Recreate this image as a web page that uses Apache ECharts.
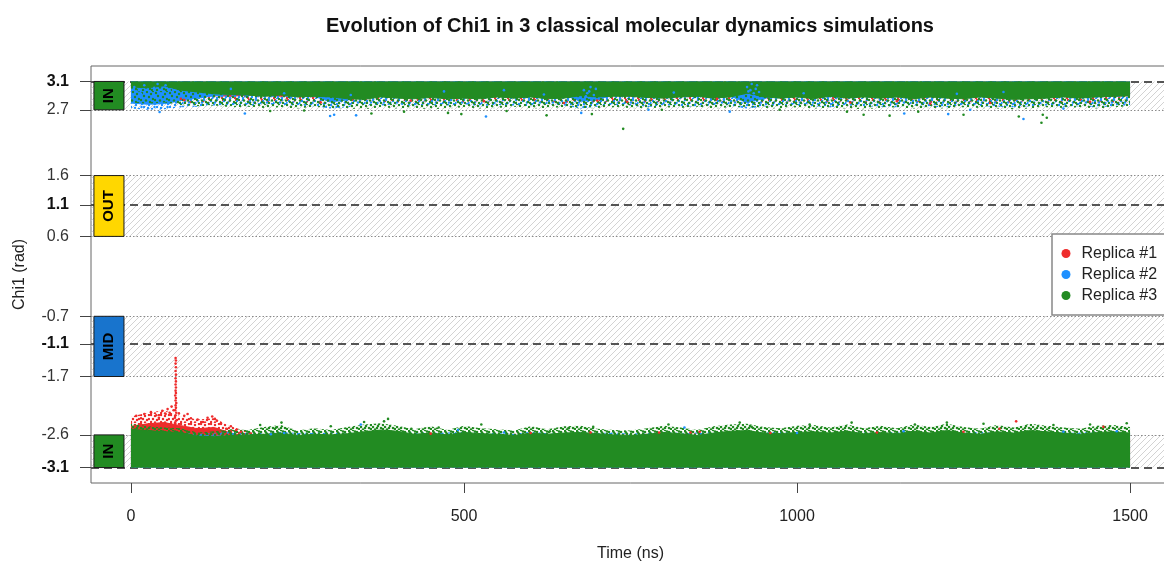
<!DOCTYPE html>
<html><head><meta charset="utf-8">
<script src="https://cdn.jsdelivr.net/npm/echarts@6/dist/echarts.min.js"></script>
<style>html,body{margin:0;padding:0;background:#fff;overflow:hidden}#c{width:1172px;height:562px}</style>
</head><body><div id="c"></div>
<script>
// ---------------- data ----------------
const times = [0,25,50,75,100,125,150,175,200,225,
  250,275,300,325,350,375,400,425,450,475,
  500,525,550,575,600,625,650,675,700,725,
  750,775,800,825,850,875,900,925,950,975,
  1000,1025,1050,1075,1100,1125,1150,1175,1200,1225,
  1250,1275,1300,1325,1350,1375,1400,1425,1450,1475,
  1500];
const xTicks = [0, 500, 1000, 1500];
const yTickVals = [3.14159, 2.68, 1.61, 1.13, 0.62, -0.68, -1.13, -1.66, -2.61, -3.14159];
const yTickLabels = ['3.1','2.7','1.6','1.1','0.6','-0.7','-1.1','-1.7','-2.6','-3.1'];
const centerLines = [3.14159, 1.13, -1.13, -3.14159];
const boundaryLines = [2.68, 1.61, 0.62, -0.68, -1.66, -2.61];
const zoneNames = ['IN','OUT','MID','IN'];
const zoneLow  = [2.68, 0.62, -1.66, -3.14159];
const zoneHigh = [3.14159, 1.61, -0.68, -2.61];
const replicaNames = ['Replica #1','Replica #2','Replica #3'];

// Replica #3 (green) – dense cloud edge and sparse fringe edge
const g3TopDense = [3.05,3.04,3.07,3.00,2.97,2.94,2.93,2.92,2.90,2.92,
  2.89,2.90,2.89,2.86,2.85,2.89,2.87,2.86,2.88,2.86,
  2.87,2.86,2.89,2.87,2.89,2.86,2.87,2.91,2.89,2.90,
  2.90,2.88,2.87,2.89,2.90,2.87,2.89,2.95,2.89,2.87,
  2.89,2.86,2.90,2.87,2.89,2.87,2.89,2.86,2.89,2.87,
  2.86,2.89,2.87,2.85,2.86,2.87,2.89,2.87,2.89,2.90,
  2.91];
const g3TopFringe = [2.80,2.78,2.80,2.76,2.74,2.75,2.72,2.73,2.71,2.72,
  2.70,2.73,2.71,2.70,2.69,2.72,2.70,2.71,2.69,2.70,
  2.72,2.70,2.71,2.73,2.70,2.71,2.72,2.70,2.71,2.72,
  2.71,2.70,2.72,2.71,2.73,2.70,2.72,2.73,2.71,2.70,
  2.72,2.70,2.71,2.70,2.69,2.71,2.72,2.70,2.71,2.70,
  2.72,2.71,2.70,2.69,2.70,2.72,2.71,2.72,2.70,2.72,
  2.74];
const g3BotDense = [-2.52,-2.54,-2.56,-2.57,-2.63,-2.64,-2.62,-2.61,-2.60,-2.58,
  -2.62,-2.60,-2.61,-2.59,-2.56,-2.53,-2.55,-2.60,-2.58,-2.61,
  -2.57,-2.59,-2.60,-2.62,-2.58,-2.60,-2.58,-2.57,-2.59,-2.61,
  -2.62,-2.60,-2.57,-2.59,-2.62,-2.58,-2.55,-2.54,-2.58,-2.59,
  -2.57,-2.56,-2.58,-2.55,-2.59,-2.57,-2.59,-2.55,-2.58,-2.54,
  -2.58,-2.60,-2.56,-2.58,-2.54,-2.56,-2.58,-2.60,-2.57,-2.56,
  -2.58];
const g3BotFringe = [-2.43,-2.47,-2.49,-2.50,-2.57,-2.55,-2.52,-2.53,-2.48,-2.45,
  -2.54,-2.50,-2.53,-2.48,-2.44,-2.42,-2.46,-2.52,-2.47,-2.53,
  -2.46,-2.50,-2.52,-2.54,-2.47,-2.52,-2.47,-2.46,-2.51,-2.53,
  -2.54,-2.50,-2.46,-2.49,-2.53,-2.47,-2.44,-2.43,-2.48,-2.50,
  -2.46,-2.45,-2.49,-2.44,-2.50,-2.46,-2.50,-2.44,-2.48,-2.43,
  -2.48,-2.51,-2.45,-2.49,-2.43,-2.46,-2.49,-2.51,-2.46,-2.45,
  -2.48];

// Replica #2 (blue)
const b2TopDense = [2.79,2.77,2.78,2.83,2.87,2.91,2.93,2.92,2.94,2.93,
  2.92,2.90,2.81,2.84,2.93,2.92,2.94,2.92,2.93,2.94,
  2.92,2.93,2.94,2.92,2.93,2.94,2.92,2.82,2.84,2.93,
  2.92,2.88,2.93,2.92,2.89,2.94,2.90,2.80,2.86,2.93,
  2.93,2.92,2.89,2.93,2.92,2.91,2.89,2.93,2.91,2.88,
  2.93,2.92,2.90,2.89,2.92,2.93,2.91,2.92,2.89,2.92,
  2.93];
const b2TopFringe = [2.70,2.68,2.69,2.72,2.73,2.75,2.76,2.74,2.77,2.76,
  2.75,2.74,2.70,2.72,2.76,2.75,2.77,2.74,2.76,2.75,
  2.77,2.74,2.76,2.75,2.74,2.77,2.75,2.70,2.73,2.76,
  2.75,2.72,2.76,2.74,2.73,2.76,2.74,2.70,2.73,2.76,
  2.75,2.74,2.72,2.75,2.74,2.73,2.72,2.75,2.73,2.72,
  2.75,2.74,2.73,2.72,2.74,2.75,2.73,2.74,2.72,2.74,
  2.76];
const b2BotDense = [-2.62,-2.63,-2.62,-2.64,-2.62,-2.63,-2.64,-2.65,-2.64,-2.63,
  -2.65,-2.64,-2.63,-2.64,-2.65,-2.63,-2.64,-2.65,-2.64,-2.63,
  -2.64,-2.65,-2.63,-2.64,-2.65,-2.64,-2.63,-2.65,-2.64,-2.63,
  -2.65,-2.64,-2.63,-2.65,-2.64,-2.63,-2.64,-2.65,-2.63,-2.64,
  -2.65,-2.63,-2.64,-2.65,-2.64,-2.63,-2.65,-2.64,-2.63,-2.64,
  -2.63,-2.65,-2.64,-2.63,-2.64,-2.65,-2.63,-2.64,-2.65,-2.63,
  -2.64];
const b2BotFringe = [-2.57,-2.56,-2.58,-2.57,-2.59,-2.58,-2.56,-2.57,-2.58,-2.56,
  -2.58,-2.57,-2.56,-2.58,-2.57,-2.59,-2.57,-2.56,-2.58,-2.57,
  -2.56,-2.58,-2.57,-2.59,-2.56,-2.58,-2.57,-2.56,-2.58,-2.57,
  -2.59,-2.57,-2.56,-2.58,-2.57,-2.56,-2.58,-2.59,-2.57,-2.56,
  -2.58,-2.57,-2.59,-2.56,-2.57,-2.58,-2.56,-2.57,-2.59,-2.58,
  -2.57,-2.56,-2.58,-2.57,-2.59,-2.56,-2.58,-2.57,-2.56,-2.58,
  -2.57];

// Replica #1 (red)
const r1TopDense = [2.92,2.90,2.88,2.87,2.89,2.91,2.90,2.92,2.91,2.90,
  2.91,2.89,2.90,2.92,2.91,2.90,2.89,2.91,2.92,2.90,
  2.89,2.91,2.90,2.92,2.90,2.91,2.89,2.90,2.91,2.92,
  2.90,2.91,2.89,2.90,2.92,2.91,2.90,2.89,2.91,2.90,
  2.92,2.90,2.91,2.89,2.90,2.92,2.91,2.90,2.89,2.91,
  2.90,2.92,2.91,2.89,2.90,2.91,2.92,2.90,2.91,2.90,
  2.91];
const r1TopFringe = [2.82,2.80,2.78,2.77,2.80,2.82,2.81,2.83,2.80,2.82,
  2.81,2.79,2.82,2.80,2.83,2.81,2.80,2.82,2.81,2.83,
  2.80,2.82,2.81,2.83,2.80,2.81,2.79,2.82,2.80,2.81,
  2.82,2.80,2.81,2.83,2.82,2.80,2.81,2.83,2.80,2.82,
  2.81,2.83,2.80,2.82,2.81,2.80,2.82,2.81,2.79,2.82,
  2.80,2.82,2.81,2.79,2.83,2.81,2.80,2.82,2.81,2.80,
  2.82];
const r1BotDense = [-2.47,-2.43,-2.41,-2.46,-2.51,-2.49,-2.58,-2.64,-2.65,-2.66,
  -2.65,-2.67,-2.66,-2.65,-2.67,-2.66,-2.65,-2.66,-2.67,-2.65,
  -2.66,-2.65,-2.67,-2.66,-2.65,-2.66,-2.67,-2.65,-2.66,-2.65,
  -2.67,-2.66,-2.65,-2.66,-2.65,-2.67,-2.66,-2.65,-2.66,-2.67,
  -2.65,-2.66,-2.67,-2.65,-2.66,-2.65,-2.66,-2.67,-2.65,-2.66,
  -2.65,-2.66,-2.67,-2.65,-2.66,-2.65,-2.67,-2.66,-2.65,-2.66,
  -2.66];
const r1BotFringe = [-2.31,-2.25,-2.21,-2.31,-2.36,-2.34,-2.47,-2.56,-2.60,-2.61,
  -2.60,-2.62,-2.59,-2.61,-2.60,-2.62,-2.60,-2.59,-2.61,-2.60,
  -2.62,-2.60,-2.61,-2.59,-2.60,-2.62,-2.60,-2.58,-2.61,-2.60,
  -2.61,-2.59,-2.58,-2.60,-2.58,-2.61,-2.60,-2.62,-2.60,-2.61,
  -2.60,-2.62,-2.61,-2.59,-2.60,-2.61,-2.60,-2.59,-2.61,-2.58,
  -2.60,-2.61,-2.59,-2.58,-2.60,-2.61,-2.60,-2.62,-2.60,-2.61,
  -2.60];

// individual (sparse) points
const r1Points = [
  [66.5,-2.42],[67.5,-2.38],[66,-2.33],[67,-2.29],[68,-2.25],[66.5,-2.21],[67.5,-2.17],[67,-2.13],
  [68,-2.09],[67,-2.05],[67.5,-2.01],[66.5,-1.97],[67.5,-1.93],[67,-1.89],[67.5,-1.84],[67,-1.79],
  [67.5,-1.74],[67,-1.69],[67.5,-1.63],[67,-1.57],[67.5,-1.51],[67,-1.45],[67.5,-1.40],[67,-1.36],
  [8,-2.30],[15,-2.34],[20,-2.27],[30,-2.24],[38,-2.29],[42,-2.33],[47,-2.22],[52,-2.27],[55,-2.19],
  [58,-2.25],[61,-2.15],[64,-2.21],[72,-2.26],[80,-2.30],[85,-2.27],[90,-2.34],[100,-2.36],[108,-2.40],
  [115,-2.33],[122,-2.31],[126,-2.35],[129,-2.38],[135,-2.42],[143,-2.51],[150,-2.47],[158,-2.53],[165,-2.56],
  [450,-2.59],[600,-2.58],[690,-2.57],[793,-2.57],[840,-2.57],[854,-2.56],[960,-2.58],[1120,-2.57],
  [1250,-2.56],[1304,-2.51],[1329,-2.39],[1460,-2.48],
  [75,2.86],[80,2.84],[285,2.80],[420,2.83],[530,2.82],[650,2.79],[700,2.83],[745,2.81],[880,2.86],
  [1080,2.80],[1150,2.82],[1200,2.78],[1290,2.79],[1440,2.81]];
const b2Points = [
  [43,2.645],[171,2.62],[299,2.58],[305,2.60],[338,2.59],[533,2.57],[676,2.63],[777,2.68],[899,2.65],
  [1161,2.62],[1227,2.61],[1260,2.68],[1340,2.53],[1400,2.70],
  [925,3.05],[927,2.98],[928,2.92],[930,3.00],[932,3.10],[935,2.95],[936,2.90],[938,3.02],[940,3.08],[943,2.97],
  [680,3.00],[683,2.90],[685,2.95],[688,2.98],[690,3.05],[695,2.92],[698,3.02],
  [5,3.05],[12,3.00],[15,2.94],[20,3.08],[28,2.98],[35,3.04],[40,3.10],[45,2.95],[52,3.08],[58,3.00],
  [150,3.02],[230,2.95],[330,2.92],[470,2.98],[560,3.00],[620,2.93],[815,2.96],[1010,2.95],[1240,2.94],[1310,2.97],
  [210,-2.60],[230,-2.58],[345,-2.44],[491,-2.53],[560,-2.57],[831,-2.49],[1000,-2.58],[1160,-2.55],[1400,-2.56],[1480,-2.55]];
const g3Points = [
  [209,2.66],[260,2.67],[361,2.62],[410,2.65],[476,2.63],[496,2.61],[564,2.66],[624,2.59],[692,2.61],
  [739,2.37],[797,2.68],[974,2.68],[1075,2.65],[1100,2.60],[1139,2.585],[1182,2.65],[1250,2.60],
  [1333,2.57],[1367,2.47],[1369,2.60],[1375,2.55],
  [194,-2.45],[218,-2.49],[226,-2.41],[300,-2.47],[350,-2.40],[380,-2.39],[386,-2.35],[421,-2.51],
  [462,-2.49],[526,-2.44],[629,-2.55],[657,-2.50],[694,-2.48],[807,-2.44],[914,-2.41],[932,-2.48],
  [1019,-2.44],[1082,-2.41],[1177,-2.44],[1225,-2.41],[1280,-2.43],[1385,-2.45],[1440,-2.44],[1495,-2.42]];

// ---------------- styles ----------------
const FONT = '"Liberation Sans", Arial, Helvetica, sans-serif';
const RED = '#EE2C2C', BLUE = '#1E90FF', GREEN = '#228B22';
const zoneColors = ['#228B22', '#FFD700', '#1874CD', '#228B22'];
const PI_VAL = 3.14159;

function dotPattern(color, w, h, pts, r) {
  const c = document.createElement('canvas'); c.width = w; c.height = h;
  const g = c.getContext('2d'); g.fillStyle = color;
  pts.forEach(p => { g.beginPath(); g.arc(p[0], p[1], r, 0, Math.PI * 2); g.fill(); });
  return { image: c, repeat: 'repeat' };
}
function hatchPattern() {
  const s = 6, c = document.createElement('canvas'); c.width = s; c.height = s;
  const g = c.getContext('2d'); g.strokeStyle = '#c8c8c8'; g.lineWidth = 0.8;
  g.beginPath();
  g.moveTo(0, s); g.lineTo(s, 0);
  g.moveTo(-s / 2, s / 2); g.lineTo(s / 2, -s / 2);
  g.moveTo(s / 2, s * 1.5); g.lineTo(s * 1.5, s / 2);
  g.stroke();
  return { image: c, repeat: 'repeat' };
}
const gTopPat = dotPattern(GREEN, 14, 13, [[2,2],[7,1],[11,3],[4,5],[9,6],[13,8],[1,9],[6,9.5],[10,11],[13,0],[3,12],[12,12]], 1.2);
const gBotPat = dotPattern(GREEN, 12, 10, [[1,1],[5,0],[9,2],[3,4],[7,4],[11,5],[1,7],[5,8],[9,8],[3,9.5],[7,1.5],[11,9],[6,6],[2,2.5]], 1.3);
const bPat = dotPattern(BLUE, 13, 11, [[3,2],[9,1],[6,6],[12,5],[1,8],[9,10],[4,11],[11.5,8],[0.5,4],[7,3.5],[5,9]], 1.2);
const rPat = dotPattern(RED, 13, 11, [[2,1],[8,3],[5,7],[11,8],[1,10]], 1.2);
const rPatDense = dotPattern(RED, 10, 9, [[1,1],[5,2],[9,1],[3,5],[7,6],[1,8],[5,8.5],[9,5]], 1.25);
const hatch = hatchPattern();

const pairs = vals => times.map((t, i) => [t, vals[i]]);
function area(id, vals, origin, fill, stroke, z) {
  return {
    type: 'line', id, name: id, data: pairs(vals), symbol: 'none', showSymbol: false,
    silent: true, animation: false, z,
    lineStyle: stroke ? { width: 1, color: stroke } : { width: 0, opacity: 0 },
    areaStyle: { origin, color: fill, opacity: 1 }
  };
}
function pts(name, data, color, z) {
  return { type: 'scatter', name, data, symbol: 'circle', symbolSize: 2.6, silent: true,
    animation: false, z, itemStyle: { color, opacity: 1 } };
}

const zoneData = zoneNames.map((n, i) => [zoneLow[i], zoneHigh[i], i]);

const option = {
  animation: false,
  backgroundColor: '#ffffff',
  textStyle: { fontFamily: FONT },
  title: {
    text: 'Evolution of Chi1 in 3 classical molecular dynamics simulations',
    left: 625, top: 11, textAlign: 'center',
    textStyle: { fontSize: 20, fontWeight: 'bold', color: '#111', fontFamily: FONT }
  },
  legend: {
    data: replicaNames, left: 1052, top: 234, orient: 'vertical', selectedMode: false,
    backgroundColor: '#fff', borderColor: '#888', borderWidth: 1.5, borderRadius: 0,
    padding: [11, 20, 11, 9.5], itemGap: 4, itemWidth: 9, itemHeight: 9, icon: 'circle',
    textStyle: { fontSize: 16, color: '#222', fontFamily: FONT, lineHeight: 17, padding: [0, 0, 0, 6] },
    z: 40
  },
  grid: { left: 91, top: 66, width: 1079, height: 417, show: true, borderColor: '#666', borderWidth: 1,
    containLabel: false, outerBoundsMode: 'none' },
  xAxis: {
    type: 'value', min: -60, max: 1560,
    name: 'Time (ns)', nameLocation: 'middle', nameGap: 63,
    nameTextStyle: { fontSize: 16, color: '#222', fontFamily: FONT },
    axisLine: { show: false, onZero: false }, splitLine: { show: false },
    axisTick: { show: true, length: 10, customValues: xTicks, lineStyle: { color: '#444', width: 1 } },
    axisLabel: { customValues: xTicks, fontSize: 16, color: '#222', margin: 26, fontFamily: FONT,
      formatter: v => String(v) }
  },
  yAxis: {
    type: 'value', min: -3.393, max: 3.393,
    name: 'Chi1 (rad)', nameLocation: 'middle', nameGap: 63,
    nameTextStyle: { fontSize: 16, color: '#222', fontFamily: FONT },
    axisLine: { show: false, onZero: false }, splitLine: { show: false },
    axisTick: { show: true, length: 11, customValues: yTickVals, lineStyle: { color: '#444', width: 1 } },
    axisLabel: {
      customValues: yTickVals, margin: 22, fontFamily: FONT,
      formatter: function (v) {
        const i = yTickVals.findIndex(t => Math.abs(t - v) < 1e-6);
        if (i < 0) return '';
        const bold = centerLines.some(c => Math.abs(c - v) < 1e-6);
        return (bold ? '{b|' : '{n|') + yTickLabels[i] + '}';
      },
      rich: {
        b: { fontSize: 16, fontWeight: 'bold', color: '#111', fontFamily: FONT },
        n: { fontSize: 16, color: '#333', fontFamily: FONT }
      }
    }
  },
  series: [
    {
      type: 'custom', id: 'hatch', name: 'hatch', data: zoneData, z: 1, silent: true, animation: false,
      renderItem: function (params, api) {
        const cs = params.coordSys;
        const top = api.coord([0, api.value(1)])[1];
        const bot = api.coord([0, api.value(0)])[1];
        return { type: 'rect', shape: { x: cs.x, y: top, width: cs.width, height: bot - top },
          style: { fill: hatch } };
      }
    },
    {
      type: 'line', id: 'refLines', name: 'refLines', data: [], z: 2, silent: true, animation: false,
      markLine: {
        silent: true, symbol: ['none', 'none'], label: { show: false }, animation: false,
        data: boundaryLines.map(v => ({ yAxis: v, lineStyle: { type: [1.5, 2], width: 1, color: '#8a8a8a' } }))
          .concat(centerLines.map(v => ({ yAxis: v, lineStyle: { type: [8, 5], width: 2, color: '#555' } })))
      }
    },
    area('r1TopF', r1TopFringe, PI_VAL, rPat, null, 3),
    area('r1TopD', r1TopDense, PI_VAL, RED, RED, 4),
    area('r1BotF', r1BotFringe, -PI_VAL, rPatDense, null, 3),
    area('r1BotD', r1BotDense, -PI_VAL, RED, RED, 4),
    area('b2TopF', b2TopFringe, PI_VAL, bPat, null, 5),
    area('b2TopD', b2TopDense, PI_VAL, BLUE, BLUE, 6),
    area('b2BotF', b2BotFringe, -PI_VAL, bPat, null, 5),
    area('b2BotD', b2BotDense, -PI_VAL, BLUE, BLUE, 6),
    area('g3TopF', g3TopFringe, PI_VAL, gTopPat, null, 7),
    area('g3TopD', g3TopDense, PI_VAL, GREEN, GREEN, 8),
    area('g3BotF', g3BotFringe, -PI_VAL, gBotPat, null, 7),
    area('g3BotD', g3BotDense, -PI_VAL, GREEN, GREEN, 8),
    pts('Replica #1', r1Points, RED, 10),
    pts('Replica #2', b2Points, BLUE, 11),
    pts('Replica #3', g3Points, GREEN, 12),
    {
      type: 'custom', id: 'zoneLabels', name: 'zoneLabels', data: zoneData, z: 20, silent: true,
      animation: false, clip: false,
      renderItem: function (params, api) {
        const i = api.value(2);
        const p1 = api.coord([-55.6, api.value(1)]);
        const p2 = api.coord([-10.5, api.value(0)]);
        return {
          type: 'group', children: [
            { type: 'rect', shape: { x: p1[0], y: p1[1], width: p2[0] - p1[0], height: p2[1] - p1[1] },
              style: { fill: zoneColors[i], stroke: '#1a1a1a', lineWidth: 1 } },
            { type: 'text', x: (p1[0] + p2[0]) / 2, y: (p1[1] + p2[1]) / 2, rotation: Math.PI / 2,
              style: { text: zoneNames[i], fill: '#000', font: 'bold 15px ' + FONT, align: 'center', verticalAlign: 'middle' } }
          ]
        };
      }
    }
  ]
};
const chart = echarts.init(document.getElementById('c'), null, { renderer: 'canvas' });
chart.setOption(option);
</script>
</body></html>
